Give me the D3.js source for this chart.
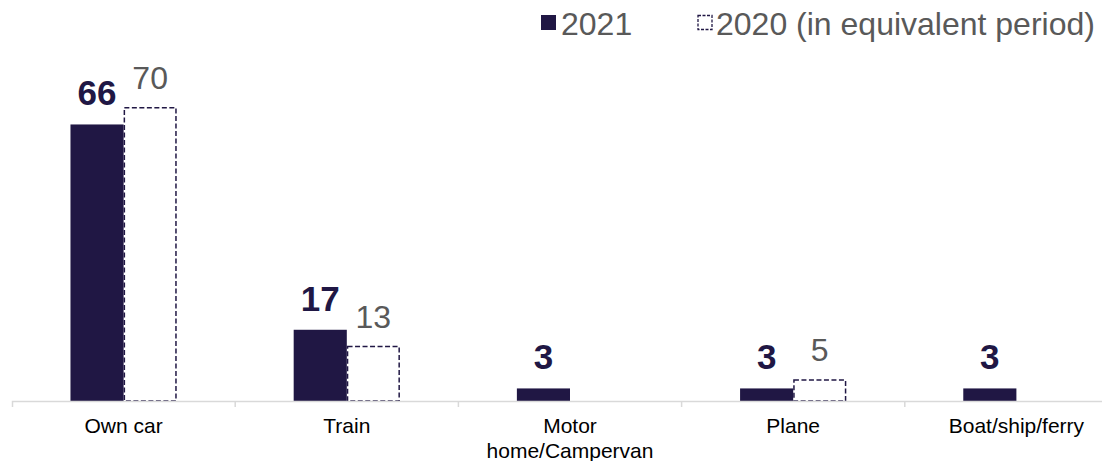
<!DOCTYPE html>
<html>
<head>
<meta charset="utf-8">
<script src="https://cdn.jsdelivr.net/npm/d3@7"></script>
<style>
  html, body { margin: 0; padding: 0; background: #ffffff; }
  svg { display: block; font-family: "Liberation Sans", Arial, sans-serif; }
</style>
</head>
<body>
<svg id="chart" width="1102" height="461"></svg>
<script>
// Travel mode shares (%), 2021 vs the same period of 2020
const categories = ["Own car", "Train", "Motor home/Campervan", "Plane", "Boat/ship/ferry"];
const tickLabels = [["Own car"], ["Train"], ["Motor", "home/Campervan"], ["Plane"], ["Boat/ship/ferry"]];
const values2021 = [66, 17, 3, 3, 3];
const values2020 = [70, 13, null, 5, null];
const seriesNames = ["2021", "2020 (in equivalent period)"];

const NAVY = "#201744";
const GREY_TEXT = "#595959";
const AXIS = "#d9d9d9";

const svg = d3.select("#chart");

const x = d3.scaleBand().domain(categories).range([12, 1128]).padding(0);
const y = d3.scaleLinear().domain([0, 70]).range([401, 107.7]);
const barW = x.bandwidth() * 0.238;

// 2021 bars (solid)
svg.append("g").selectAll("rect")
  .data(categories.map((c, i) => ({ c, v: values2021[i] })))
  .join("rect")
  .attr("x", d => x(d.c) + x.bandwidth() / 2 - barW)
  .attr("y", d => y(d.v))
  .attr("width", barW)
  .attr("height", d => y(0) - y(d.v))
  .attr("fill", NAVY);

// 2020 bars (dashed outline)
const data2020 = categories.map((c, i) => ({ c, v: values2020[i] })).filter(d => d.v != null);
svg.append("g").selectAll("rect")
  .data(data2020)
  .join("rect")
  .attr("x", d => x(d.c) + x.bandwidth() / 2 + 0.75)
  .attr("y", d => y(d.v))
  .attr("width", barW - 1.5)
  .attr("height", d => y(0) - y(d.v))
  .attr("fill", "#ffffff")
  .attr("stroke", NAVY)
  .attr("stroke-width", 1.5)
  .attr("stroke-dasharray", "5,2.5");

// Value labels
svg.append("g").selectAll("text")
  .data(categories.map((c, i) => ({ c, v: values2021[i] })))
  .join("text")
  .attr("x", d => x(d.c) + x.bandwidth() / 2 - barW / 2)
  .attr("y", d => y(d.v) - 19)
  .attr("text-anchor", "middle")
  .attr("font-size", 35)
  .attr("font-weight", "bold")
  .attr("fill", NAVY)
  .text(d => d.v);

svg.append("g").selectAll("text")
  .data(data2020)
  .join("text")
  .attr("x", d => x(d.c) + x.bandwidth() / 2 + barW / 2)
  .attr("y", d => y(d.v) - 19)
  .attr("text-anchor", "middle")
  .attr("font-size", 32)
  .attr("fill", GREY_TEXT)
  .text(d => d.v);

// Category axis
const axis = svg.append("g")
  .attr("transform", `translate(0,${y(0)})`)
  .call(d3.axisBottom(x).tickSizeInner(0).tickSizeOuter(6));
axis.select(".domain").attr("stroke", AXIS).attr("stroke-width", 1.5);
axis.selectAll(".tick line").remove();

// separators between categories
axis.append("g").selectAll("line")
  .data(categories.slice(1))
  .join("line")
  .attr("x1", d => x(d)).attr("x2", d => x(d))
  .attr("y1", 0).attr("y2", 6)
  .attr("stroke", AXIS).attr("stroke-width", 1.5);

axis.selectAll(".tick text")
  .attr("font-family", "'Liberation Sans', Arial, sans-serif")
  .attr("font-size", 21)
  .attr("fill", "#000000")
  .attr("dy", null)
  .attr("y", 32)
  .each(function(d) {
    const lines = tickLabels[categories.indexOf(d)];
    const t = d3.select(this).text(null);
    lines.forEach((ln, k) => {
      t.append("tspan").attr("x", 0).attr("y", 32 + k * 25).text(ln);
    });
  });

// Legend
const legend = svg.append("g");
legend.append("rect").attr("x", 541).attr("y", 15).attr("width", 15).attr("height", 15).attr("fill", NAVY);
legend.append("text").attr("x", 561).attr("y", 35).attr("font-size", 32).attr("fill", GREY_TEXT).text(seriesNames[0]);
legend.append("rect").attr("x", 698).attr("y", 15.5).attr("width", 14).attr("height", 14)
  .attr("fill", "#ffffff").attr("stroke", NAVY).attr("stroke-width", 1.3).attr("stroke-dasharray", "3,1.5");
legend.append("text").attr("x", 716).attr("y", 35).attr("font-size", 32).attr("fill", GREY_TEXT).text(seriesNames[1]);
</script>
</body>
</html>
